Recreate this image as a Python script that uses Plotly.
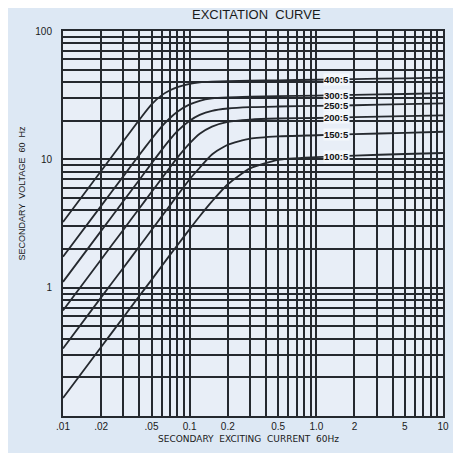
import math
import plotly.graph_objects as go

# Secondary exciting current (A, 60 Hz) sample points
current = [0.01, 0.02, 0.03, 0.04, 0.05, 0.06, 0.07, 0.08, 0.1, 0.12,
           0.15, 0.2, 0.3, 0.5, 1, 2, 5, 10]

# Secondary voltage (V, 60 Hz) for each CT ratio
v_400_5 = [3.25, 8.1, 13.9, 20.3, 26.8, 31.5, 34.5, 36.5, 38.8, 39.8,
           40.3, 40.6, 41.0, 41.3, 41.7, 42.2, 42.8, 43.3]
v_300_5 = [1.74, 4.34, 7.4, 10.8, 14.4, 18.0, 21.0, 23.5, 26.8, 28.6,
           29.8, 30.4, 30.8, 31.1, 31.4, 31.8, 32.3, 32.8]
v_250_5 = [1.11, 2.77, 4.73, 6.9, 9.3, 11.8, 14.3, 16.6, 20.0, 22.2,
           23.9, 24.9, 25.5, 25.8, 26.1, 26.4, 26.9, 27.3]
v_200_5 = [0.664, 1.66, 2.83, 4.14, 5.56, 7.07, 8.67, 10.3, 13.3, 15.8,
           18.0, 19.6, 20.4, 20.8, 21.0, 21.3, 21.7, 22.0]
v_150_5 = [0.336, 0.84, 1.43, 2.09, 2.81, 3.58, 4.38, 5.23, 7.0, 8.6,
           10.9, 13.0, 14.5, 15.1, 15.4, 15.7, 16.1, 16.4]
v_100_5 = [0.138, 0.345, 0.588, 0.86, 1.15, 1.47, 1.80, 2.14, 2.86, 3.6,
           4.7, 6.4, 8.5, 9.9, 10.4, 10.7, 11.0, 11.2]

ratio_labels = ["400:5", "300:5", "250:5", "200:5", "150:5", "100:5"]
series = [v_400_5, v_300_5, v_250_5, v_200_5, v_150_5, v_100_5]

x_tickvals = [0.01, 0.02, 0.05, 0.1, 0.2, 0.5, 1, 2, 5, 10]
x_ticktext = [".01", ".02", ".05", "0.1", "0.2", "0.5", "1.0", "2", "5", "10"]
y_tickvals = [1, 10, 100]
y_ticktext = ["1", "10", "100"]

LINE = "#25292f"
TXT = "#1a1a1a"
FONT = "Liberation Sans"
WIDE = "DejaVu Sans"

fig = go.Figure()
for name, vals in zip(ratio_labels, series):
    fig.add_trace(go.Scatter(x=current, y=vals, mode="lines", name=name,
                             line=dict(color=LINE, width=1.8, shape="spline",
                                       smoothing=0.6),
                             showlegend=False, hoverinfo="x+y+name"))

# curve labels, placed on each curve between 1.0 and 2
i1 = current.index(1)
i2 = current.index(2)
for name, vals in zip(ratio_labels, series):
    yv = math.sqrt(vals[i1] * vals[i2])
    fig.add_annotation(x=math.log10(1.44), y=math.log10(yv), text="<b>" + name + "</b>",
                       showarrow=False, font=dict(family=FONT, size=9.5, color="#111"),
                       bgcolor="#f4f7fb", borderpad=0)

axis_common = dict(type="log", showline=True, linecolor=LINE, linewidth=2, mirror=True,
                   showgrid=True, gridcolor=LINE, gridwidth=1.6, ticks="", ticklen=0,
                   zeroline=False, tickfont=dict(family=FONT, size=10, color=TXT),
                   minor=dict(showgrid=True, gridcolor=LINE, gridwidth=1.6,
                              dtick="D1", ticks=""))

fig.update_xaxes(range=[-2, 1], tickmode="array", tickvals=x_tickvals,
                 ticktext=x_ticktext, ticklabelstandoff=0, **axis_common)
fig.update_yaxes(range=[-1, 2], tickmode="array", tickvals=y_tickvals,
                 ticktext=y_ticktext, ticklabelstandoff=7, **axis_common)

fig.add_annotation(text="EXCITATION  CURVE", xref="paper", yref="paper",
                   x=0.508, y=1.042, xanchor="center", yanchor="middle",
                   showarrow=False, font=dict(family=FONT, size=13, color=TXT))
fig.add_annotation(text="SECONDARY  EXCITING  CURRENT  60Hz", xref="paper", yref="paper",
                   x=0.487, y=-0.059, xanchor="center", yanchor="middle", showarrow=False,
                   font=dict(family=WIDE, size=9, color=TXT))
fig.add_annotation(text="SECONDARY  VOLTAGE  60  Hz", xref="paper", yref="paper",
                   x=-0.107, y=0.579, xanchor="center", yanchor="middle",
                   textangle=-90, showarrow=False,
                   font=dict(family=FONT, size=9, color=TXT))

# page body has an 8px margin, so the figure is sized to fit the 461x453 window
fig.update_layout(width=453, height=445,
                  margin=dict(l=55, r=16, t=23, b=37),
                  paper_bgcolor="#dde8f4", plot_bgcolor="#e8eef7",
                  font=dict(family=FONT))

fig.write_html("out.html")
